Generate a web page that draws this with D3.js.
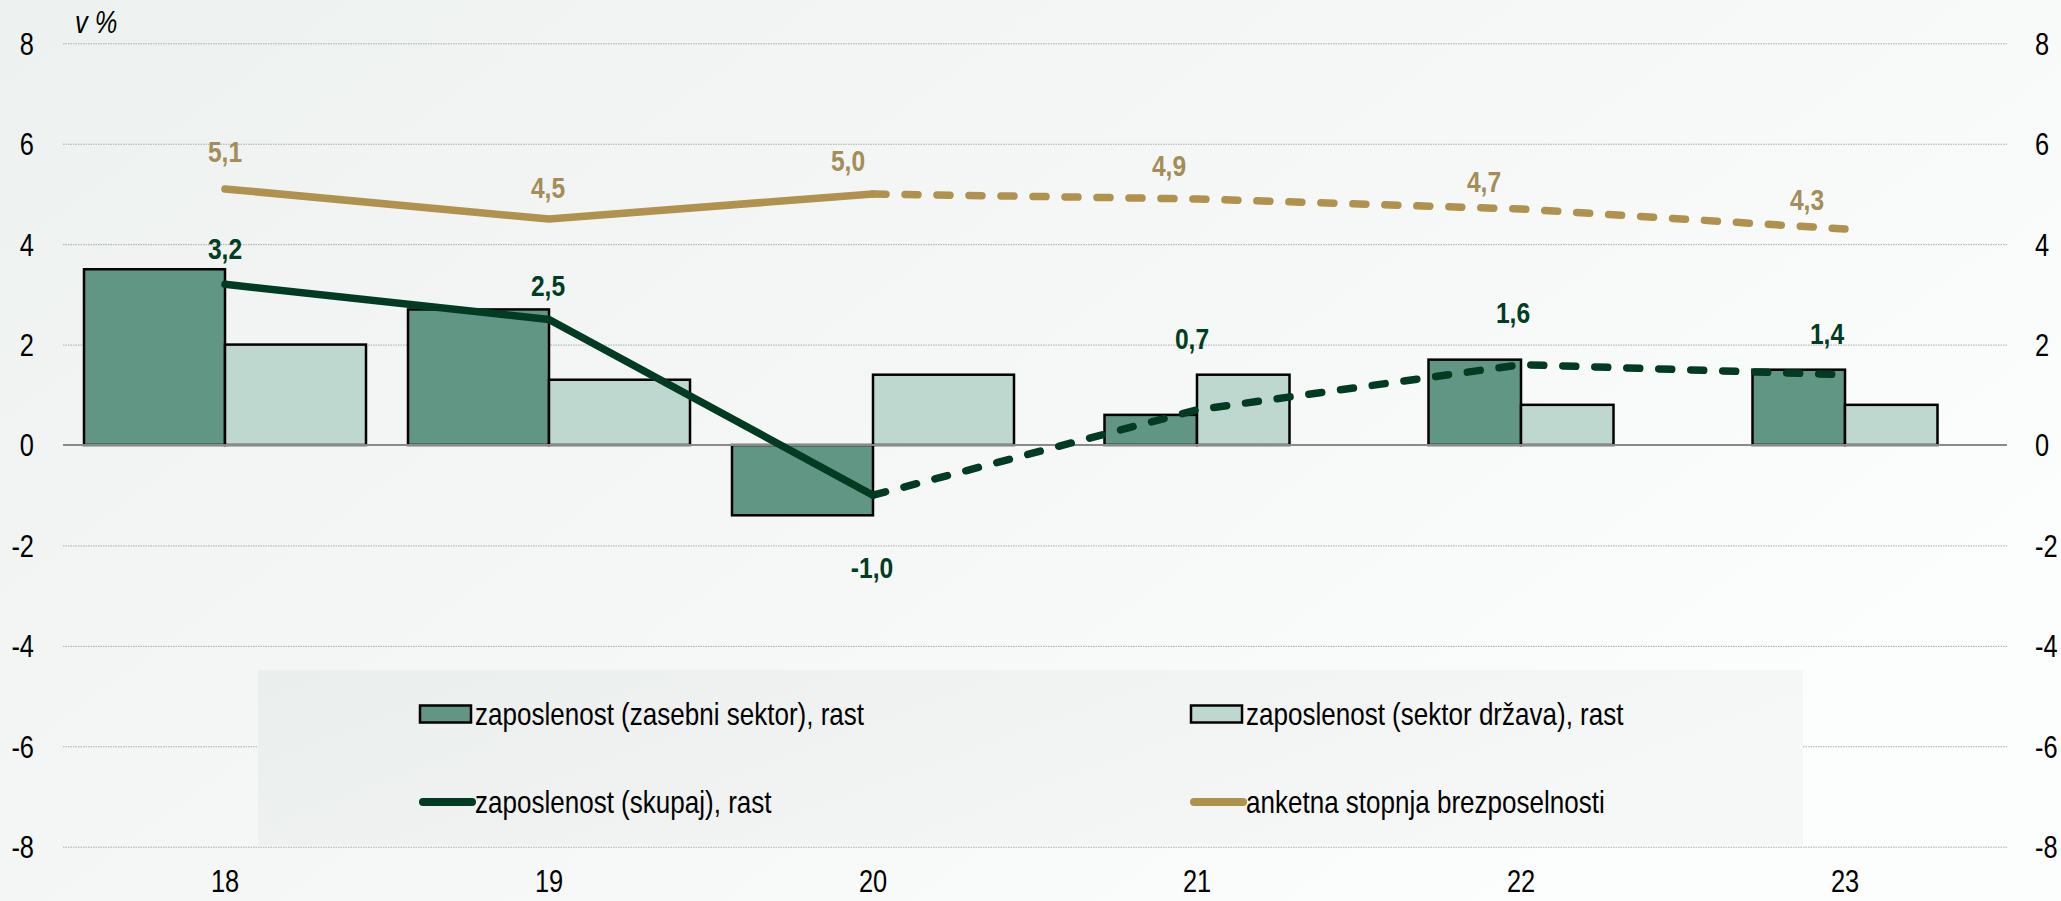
<!DOCTYPE html>
<html>
<head>
<meta charset="utf-8">
<script src="https://cdn.jsdelivr.net/npm/d3@7"></script>
<style>
  html, body { margin: 0; padding: 0; background: #fff; }
  svg { display: block; }
  text { font-family: "Liberation Sans", Arial, sans-serif; }
</style>
</head>
<body>
<svg id="chart" width="2061" height="901"></svg>
<script>
// years (20xx), first forecast year is 21
const years = ["18", "19", "20", "21", "22", "23"];
const firstForecast = "21";

// bars
const privateGrowth = [3.5, 2.7, -1.4, 0.6, 1.7, 1.5];
const publicGrowth = [2.0, 1.3, 1.4, 1.4, 0.8, 0.8];

// lines
const totalGrowth = [3.2, 2.5, -1.0, 0.7, 1.6, 1.4];
const unemployment = [5.1, 4.5, 5.0, 4.9, 4.7, 4.3];

const yTicks = [-8, -6, -4, -2, 0, 2, 4, 6, 8];

const legendLabels = [
  "zaposlenost (zasebni sektor), rast",
  "zaposlenost (sektor država), rast",
  "zaposlenost (skupaj), rast",
  "anketna stopnja brezposelnosti"
];

// hand placed label offsets (label centre relative to point), as in the original
const totalLabelOffset = [[0, -36], [-1, -34], [-1, 72], [-5, -71], [-8, -52], [-18, -41]];
const unempLabelOffset = [[0, -37], [-1, -32], [-25, -33], [-28, -33], [-37, -28], [-38, -30]];

const colors = {
  priv: "#609683",
  pub: "#bfd8cf",
  total: "#003b22",
  unemp: "#b0914d",
  unempText: "#a48d58",
  totalText: "#003d22"
};

// no Arial Narrow here: squeeze Liberation Sans instead
const narrow = 0.82;

const width = 2061, height = 901;
const svg = d3.select("#chart");

// background
let defs = svg.append("defs");
let bg = defs.append("linearGradient").attr("id", "bg")
  .attr("x1", 0).attr("y1", 0).attr("x2", 1).attr("y2", 0.6);
bg.append("stop").attr("offset", 0).attr("stop-color", "#edf1ef");
bg.append("stop").attr("offset", 1).attr("stop-color", "#fcfdfd");
let lg = defs.append("linearGradient").attr("id", "lg")
  .attr("x1", 0).attr("y1", 0).attr("x2", 1).attr("y2", 0.3);
lg.append("stop").attr("offset", 0).attr("stop-color", "#eaeeec");
lg.append("stop").attr("offset", 1).attr("stop-color", "#f6f8f7");
svg.append("rect").attr("width", width).attr("height", height).attr("fill", "url(#bg)");

const x = d3.scaleBand().domain(years).range([63, 2007]).padding(0);
const y = d3.scaleLinear().domain([-8, 8]).range([846.7, 43.3]);
const cx = d => x(d) + x.bandwidth() / 2;
const isForecast = d => years.indexOf(d) >= years.indexOf(firstForecast);
const barW = d => isForecast(d) ? 92.5 : 141;

// gridlines
svg.append("g")
  .attr("transform", "translate(63,0)")
  .call(d3.axisLeft(y).tickValues(yTicks.filter(t => t !== 0)).tickSize(-(2007 - 63)).tickFormat(""))
  .call(g => g.select(".domain").remove())
  .call(g => g.selectAll("line").attr("stroke", "#a9abaa").attr("stroke-width", 1).attr("stroke-dasharray", "1.5,1"));

// axes labels
const fmt = d => String(d).replace(".", ",");
const styleTicks = g => g.selectAll("text")
  .attr("font-size", 31).attr("fill", "#000")
  .attr("transform", `scale(${narrow},1)`);
svg.append("g")
  .attr("transform", "translate(34,0)")
  .call(d3.axisLeft(y).tickValues(yTicks).tickSize(0).tickPadding(0).tickFormat(fmt))
  .call(g => g.select(".domain").remove())
  .call(styleTicks)
  .call(g => g.selectAll("text").attr("dy", "0.35em"));
svg.append("g")
  .attr("transform", "translate(2035,0)")
  .call(d3.axisRight(y).tickValues(yTicks).tickSize(0).tickPadding(0).tickFormat(fmt))
  .call(g => g.select(".domain").remove())
  .call(styleTicks)
  .call(g => g.selectAll("text").attr("dy", "0.35em"));
svg.append("g")
  .attr("transform", "translate(0,870)")
  .call(d3.axisBottom(x).tickSize(0).tickPadding(0))
  .call(g => g.select(".domain").remove())
  .call(styleTicks)
  .call(g => g.selectAll("text").attr("dy", "0.72em"));

svg.append("text")
  .attr("transform", `translate(75,33) scale(${narrow},1)`)
  .attr("font-size", 31).attr("font-style", "italic").text("v %");

// legend background
svg.append("rect").attr("x", 258).attr("y", 670).attr("width", 1803 - 258).attr("height", 845 - 670)
  .attr("fill", "url(#lg)");

// bars
const bars = svg.append("g");
bars.selectAll("rect.priv").data(years).join("rect")
  .attr("class", "priv")
  .attr("x", d => cx(d) - barW(d))
  .attr("width", d => barW(d))
  .attr("y", (d, i) => y(Math.max(0, privateGrowth[i])))
  .attr("height", (d, i) => Math.abs(y(privateGrowth[i]) - y(0)))
  .attr("fill", colors.priv).attr("stroke", "#000").attr("stroke-width", 2.5);
bars.selectAll("rect.pub").data(years).join("rect")
  .attr("class", "pub")
  .attr("x", d => cx(d))
  .attr("width", d => barW(d))
  .attr("y", (d, i) => y(Math.max(0, publicGrowth[i])))
  .attr("height", (d, i) => Math.abs(y(publicGrowth[i]) - y(0)))
  .attr("fill", colors.pub).attr("stroke", "#000").attr("stroke-width", 2.5);

// zero line
svg.append("line").attr("x1", 63).attr("x2", 2007).attr("y1", y(0)).attr("y2", y(0))
  .attr("stroke", "#8a8a8a").attr("stroke-width", 2);

// lines: solid up to last actual year, dashed from there
const lastActual = years.indexOf(firstForecast) - 1;
const line = d3.line().x(p => cx(p[0])).y(p => y(p[1]));
function drawSeries(values, color) {
  const pts = years.map((d, i) => [d, values[i]]);
  svg.append("path").datum(pts.slice(0, lastActual + 1)).attr("d", line)
    .attr("fill", "none").attr("stroke", color).attr("stroke-width", 7.5)
    .attr("stroke-linecap", "round").attr("stroke-linejoin", "round");
  svg.append("path").datum(pts.slice(lastActual)).attr("d", line)
    .attr("fill", "none").attr("stroke", color).attr("stroke-width", 7.5)
    .attr("stroke-linecap", "round").attr("stroke-dasharray", "13,19");
}
drawSeries(unemployment, colors.unemp);
drawSeries(totalGrowth, colors.total);

// value labels
function drawLabels(values, offsets, color) {
  svg.append("g").selectAll("text").data(years).join("text")
    .attr("transform", (d, i) =>
      `translate(${cx(d) + offsets[i][0]},${y(values[i]) + offsets[i][1]}) scale(${narrow},1)`)
    .attr("dy", "0.35em")
    .attr("text-anchor", "middle")
    .attr("font-size", 30).attr("font-weight", "bold").attr("fill", color)
    .text((d, i) => values[i].toFixed(1).replace(".", ","));
}
drawLabels(unemployment, unempLabelOffset, colors.unempText);
drawLabels(totalGrowth, totalLabelOffset, colors.totalText);

// legend
const legendPos = [[420, 714], [1191, 714], [420, 802], [1191, 802]];
const leg = svg.append("g");
legendLabels.forEach((label, i) => {
  const [lx, ly] = legendPos[i];
  if (i < 2) {
    leg.append("rect").attr("x", lx).attr("y", ly - 8.5).attr("width", 51).attr("height", 17)
      .attr("fill", i === 0 ? colors.priv : colors.pub).attr("stroke", "#000").attr("stroke-width", 2.5);
  } else {
    leg.append("line").attr("x1", lx + 3).attr("x2", lx + 52).attr("y1", ly).attr("y2", ly)
      .attr("stroke", i === 2 ? colors.total : colors.unemp).attr("stroke-width", 8)
      .attr("stroke-linecap", "round");
  }
  leg.append("text")
    .attr("transform", `translate(${lx + 55},${ly}) scale(0.84,1)`)
    .attr("dy", "0.35em")
    .attr("font-size", 31).attr("fill", "#000").text(label);
});
</script>
</body>
</html>
